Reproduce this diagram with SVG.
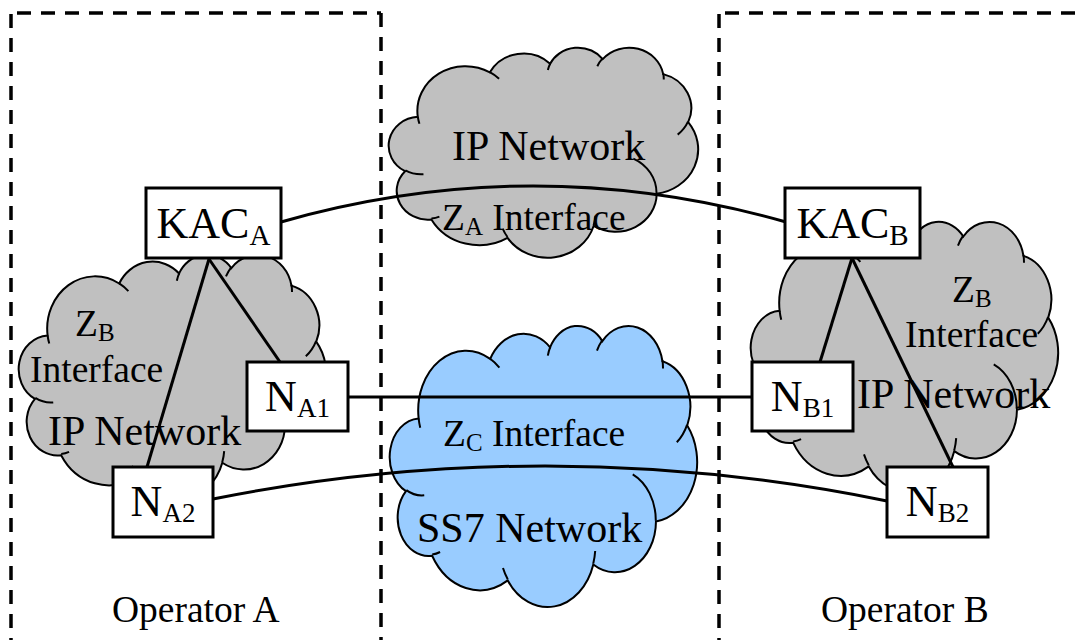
<svg xmlns="http://www.w3.org/2000/svg" width="1084" height="640" viewBox="0 0 1084 640" font-family="'Liberation Serif', serif">
<style>
text{font-family:'Liberation Serif','Times New Roman',serif;fill:#000}
.t42{font-size:42px}
.t37{font-size:37.5px}
.t44{font-size:44px}
.s25{font-size:25px}
.s29{font-size:29px}
.s27{font-size:27px}
.co{stroke:#000;stroke-width:2;vector-effect:non-scaling-stroke}
.ci{fill:none;stroke:#000;stroke-width:2;vector-effect:non-scaling-stroke}
.box{fill:#fff;stroke:#000;stroke-width:3}
.conn{fill:none;stroke:#000;stroke-width:3}
.dash{fill:none;stroke:#000;stroke-width:3.5;stroke-dasharray:14 10}
.gray{fill:#C0C0C0}
.blue{fill:#99CCFF}
</style>
<defs>
<g id="cloud">
<path class="co" d="M3900,14370 A6753,9190 0 0 1 14005,5202 A5333,7267 0 0 1 22459,3431 A4365,5945 0 0 1 29837,2479 A4857,6595 0 0 1 38322,5574 A5333,7273 0 0 1 41822,15458 A6775,9220 0 0 1 37408,30201 A5785,7867 0 0 1 28560,36812 A6752,9215 0 0 1 16485,39266 A7720,10543 0 0 1 5806,35471 A4360,5918 0 0 1 2114,25551 A4345,5945 0 0 1 3900,14370 Z"/>
<path class="ci" d="M4693,26177 A4345,5945 0 0 1 2160,25380 M6928,34899 A4360,5918 0 0 1 5819,35281 M16478,39090 A6752,9215 0 0 1 15809,37349 M28827,34751 A6752,9215 0 0 1 28560,36660 M34129,22954 A5785,7867 0 0 1 37381,30090 M41798,15354 A5333,7273 0 0 1 40350,18031 M38324,5426 A4857,6595 0 0 1 38400,6690 M29078,3952 A4857,6595 0 0 1 29820,2340 M22141,4720 A4365,5945 0 0 1 22500,3331 M14000,5192 A6753,9190 0 0 1 15302,6543 M4127,15789 A6753,9190 0 0 1 3901,14372"/>
</g>
</defs>

<g id="operator-a">
<path class="dash" d="M11,14 V640 M17,13 H381 M381,13 V640"/>
<text x="112" y="622" class="t37">Operator A</text>
</g>
<g id="operator-b">
<path class="dash" d="M719,14 V640 M725,13 H1084"/>
<text x="821" y="622" class="t37">Operator B</text>
</g>

<g id="ip-network-za">
<use href="#cloud" class="gray" transform="translate(390,47) scale(0.00712963,0.00486111)"/>
<text x="452" y="160" class="t42">IP Network</text>
<text x="442" y="230" class="t37" xml:space="preserve">Z<tspan class="s25" dy="5">A</tspan><tspan dy="-5"> Interface</tspan></text>
</g>

<g id="ss7-network">
<use href="#cloud" class="blue" transform="translate(391,325) scale(0.00708333,0.00650463)"/>
<text x="443" y="446" class="t37" xml:space="preserve">Z<tspan class="s25" dy="5">C</tspan><tspan dy="-5"> Interface</tspan></text>
<text x="417" y="542" class="t42">SS7 Network</text>
</g>

<g id="ip-network-a">
<use href="#cloud" class="gray" transform="translate(20,254) scale(0.00708333,0.0056713)"/>
<text x="75" y="336" class="t37">Z<tspan class="s25" dy="5">B</tspan></text>
<text x="30" y="382" class="t37">Interface</text>
<text x="48" y="445" class="t42">IP Network</text>
</g>

<g id="ip-network-b">
<use href="#cloud" class="gray" transform="translate(752,221) scale(0.00708333,0.00625)"/>
<text x="952" y="302" class="t37">Z<tspan class="s25" dy="5">B</tspan></text>
<text x="905" y="347" class="t37">Interface</text>
<text x="857" y="408" class="t42">IP Network</text>
</g>

<g id="connectors">
<path class="conn" d="M281,222 Q533,150 786,222"/>
<path class="conn" d="M348,397 L752,397"/>
<path class="conn" d="M213,499 Q550,432 887,501"/>
<path class="conn" d="M209,259 L280,362"/>
<path class="conn" d="M209,259 L147,467"/>
<path class="conn" d="M852,258 L820,362"/>
<path class="conn" d="M852,258 L953,467"/>
</g>

<g id="kac-a">
<rect class="box" x="146" y="188" width="135" height="70"/>
<text x="213.5" y="238" class="t44" text-anchor="middle">KAC<tspan class="s29" dy="7">A</tspan></text>
</g>
<g id="kac-b">
<rect class="box" x="785" y="188" width="135" height="70"/>
<text x="852.5" y="238" class="t44" text-anchor="middle">KAC<tspan class="s29" dy="7">B</tspan></text>
</g>
<g id="n-a1">
<rect class="box" x="247" y="362" width="101" height="69"/>
<text x="297.5" y="411" class="t44" text-anchor="middle">N<tspan class="s27" dy="6">A1</tspan></text>
</g>
<g id="n-a2">
<rect class="box" x="113" y="467" width="100" height="70"/>
<text x="163" y="516" class="t44" text-anchor="middle">N<tspan class="s27" dy="6">A2</tspan></text>
</g>
<g id="n-b1">
<rect class="box" x="752" y="362" width="101" height="69"/>
<text x="802.5" y="411" class="t44" text-anchor="middle">N<tspan class="s27" dy="6">B1</tspan></text>
</g>
<g id="n-b2">
<rect class="box" x="887" y="467" width="101" height="70"/>
<text x="937.5" y="516" class="t44" text-anchor="middle">N<tspan class="s27" dy="6">B2</tspan></text>
</g>
</svg>
